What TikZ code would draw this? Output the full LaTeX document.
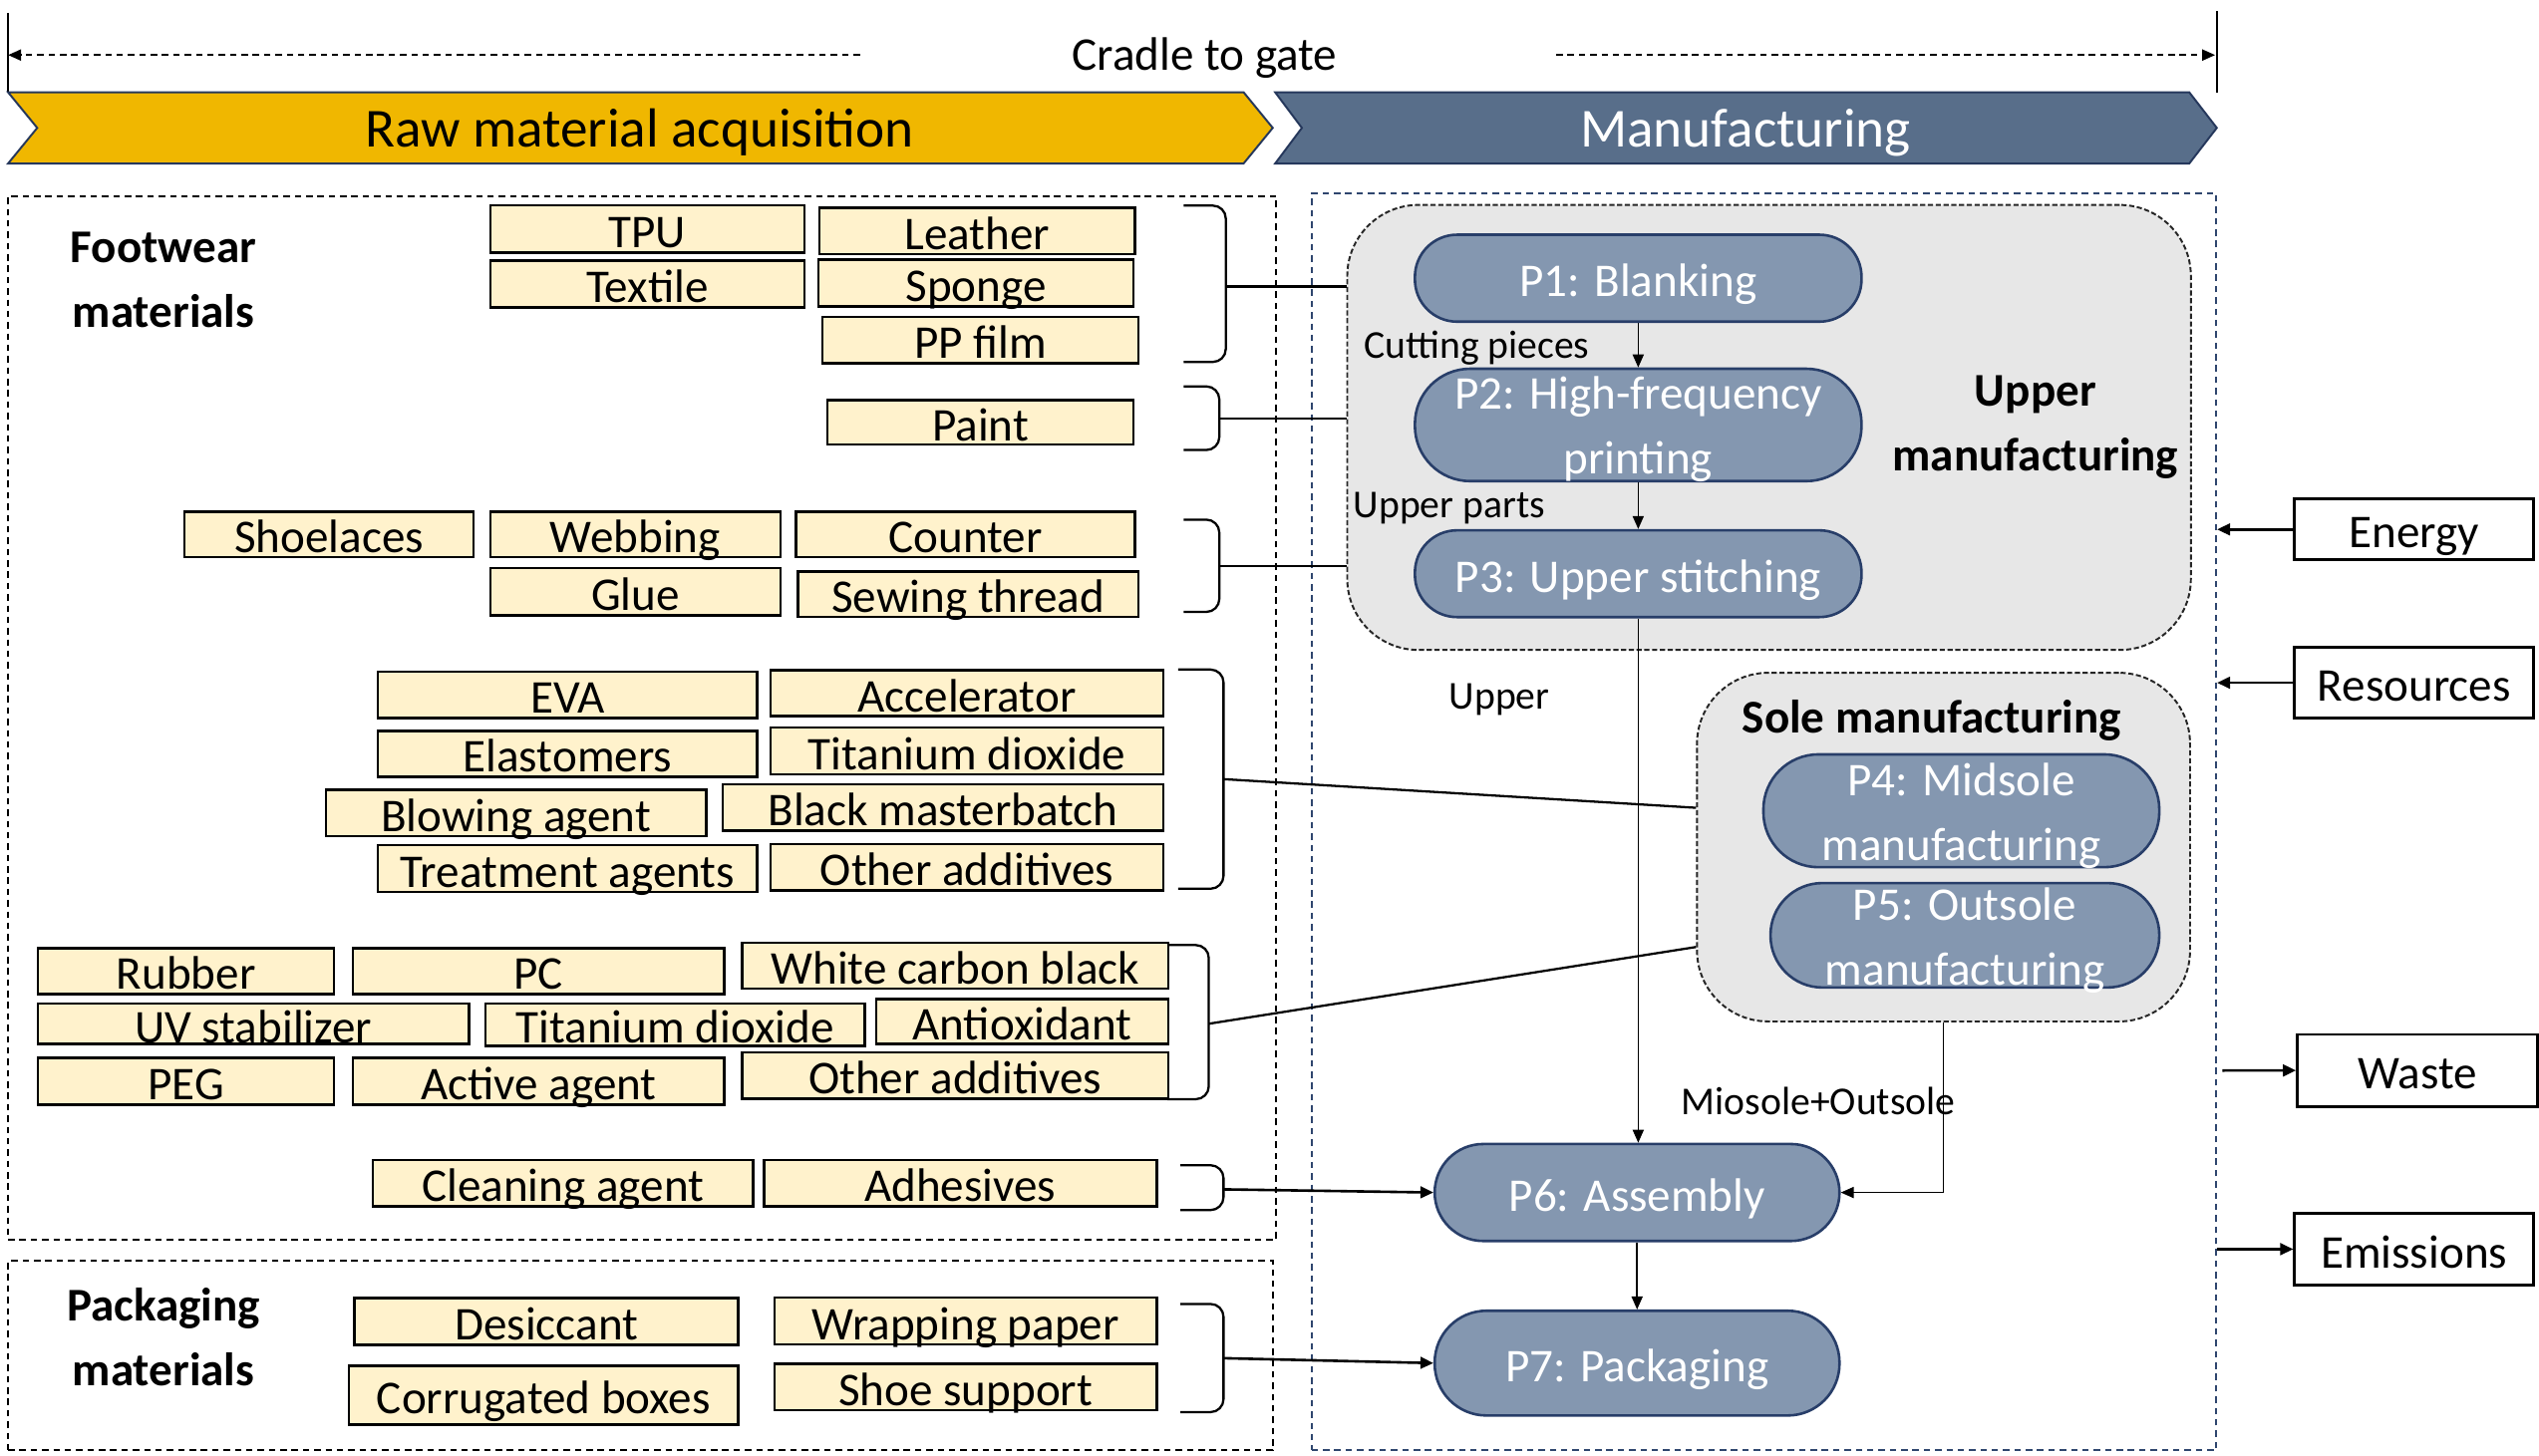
\documentclass[tikz,border=0pt]{standalone}
\usepackage{fontspec}
\setmainfont{Carlito}
\usetikzlibrary{arrows.meta}
\definecolor{gold}{RGB}{240,183,0}
\definecolor{chevblue}{RGB}{88,110,138}
\definecolor{navy}{RGB}{38,56,92}
\definecolor{pfill}{RGB}{132,151,176}
\definecolor{pborder}{RGB}{40,62,105}
\definecolor{matfill}{RGB}{255,242,204}
\definecolor{grayfill}{RGB}{231,231,231}
\definecolor{dashnavy}{RGB}{47,70,110}
\newcommand\ftitle{\fontsize{17pt}{20pt}\selectfont}
\newcommand\fmain{\fontsize{14.5pt}{20pt}\selectfont}
\newcommand\flab{\fontsize{12.2pt}{15pt}\selectfont}
\newcommand\bx[7]{\node[#1, minimum width={(#5-#3)*0.5pt}, minimum height={(#6-#4)*0.5pt}] (#2) at ({(#3+#5)/2},{(#4+#6)/2}) {#7};}
\tikzset{
  matbox/.style={draw=black, line width=0.8pt, fill=matfill, inner sep=0pt, text height=11.5pt, text depth=0pt, font=\fmain},
  pnode/.style={draw=pborder, line width=0.8pt, fill=pfill, text=white, font=\fmain, align=center, inner sep=0pt, text height=11.5pt, text depth=0pt},
  pnode2/.style={pnode, text height=30.5pt, text depth=0pt},
  sidebox/.style={draw=black, line width=0.8pt, fill=white, inner sep=0pt, text height=11.5pt, text depth=0pt, font=\fmain},
  grp/.style={draw=black!85, dash pattern=on 1.6pt off 0.8pt, line width=0.6pt, fill=grayfill, inner sep=0pt, rounded corners=22pt},
  outer/.style={draw=black, dash pattern=on 2pt off 1.5pt, line width=0.6pt, inner sep=0pt},
  conn/.style={line width=0.7pt},
  arr/.style={line width=0.5pt, -{Triangle[length=4pt,width=3.4pt]}},
  sarr/.style={line width=0.8pt, -{Triangle[length=4pt,width=3.6pt]}},
  brk/.style={line width=0.7pt, rounded corners=4pt},
  lab/.style={font=\flab, inner sep=0pt},
  blab/.style={font=\bfseries\fmain, align=center, inner sep=0pt},
}
\begin{document}
\begin{tikzpicture}[x=0.5pt,y=-0.5pt]
\useasboundingbox (0,0) rectangle (1568,899);
% top span
\draw[line width=0.6pt] (5,8) -- (5,57);
\draw[line width=0.6pt] (1369,7) -- (1369,57);
\coordinate (cla) at (531,34);
\coordinate (clb) at (5,34);
\coordinate (cra) at (961,34);
\coordinate (crb) at (1368,34);
\draw[dash pattern=on 2pt off 1.5pt, line width=0.6pt, -{Triangle[length=4pt,width=3.4pt]}] (cla) -- (clb);
\draw[dash pattern=on 2pt off 1.5pt, line width=0.6pt, -{Triangle[length=4pt,width=3.4pt]}] (cra) -- (crb);
\node[font=\fmain, inner sep=0pt] (cradle) at (744,36) {Cradle to gate};
% chevrons
\draw[navy, line width=0.6pt, fill=gold] (5,57) -- (768,57) -- (786,79) -- (768,101) -- (5,101) -- (23,79) -- cycle;
\draw[navy, line width=0.6pt, fill=chevblue] (787.5,57) -- (1352,57) -- (1369,79) -- (1352,101) -- (787.5,101) -- (804,79) -- cycle;
\node[font=\ftitle, inner sep=0pt] (rawtitle) at (395,82) {Raw material acquisition};
\node[font=\ftitle, text=white, inner sep=0pt] (mfgtitle) at (1078,82) {Manufacturing};
% outer boxes
\bx{outer}{fwbox}{5}{121}{788}{766}{}
\bx{outer}{pkbox}{5}{779}{786}{896}{}
\bx{outer, draw=dashnavy}{mfg}{810}{119.5}{1368.6}{896}{}
\bx{grp}{upperbox}{832}{126.6}{1353}{401.5}{}
\bx{grp}{solebox}{1048}{415.6}{1352.5}{631}{}
% labels
\node[blab] (fwlab) at (101,173) {Footwear\\materials};
\node[blab] (pklab) at (101,826) {Packaging\\materials};
\node[blab] (uplab) at (1257,264) {Upper\\manufacturing};
\node[blab] (solelab) at (1193,445) {Sole manufacturing};
% materials
\bx{matbox}{m1}{302.8}{126.8}{496.8}{156}{TPU}
\bx{matbox}{m2}{506}{128.3}{701}{157}{Leather}
\bx{matbox}{m3}{302.8}{161}{496.8}{189.8}{Textile}
\bx{matbox}{m4}{505.5}{160.5}{700}{189.2}{Sponge}
\bx{matbox}{m5}{508}{195.8}{703}{224.3}{PP film}
\bx{matbox}{m6}{511}{247.3}{700}{274.6}{Paint}
\bx{matbox}{m7}{113.9}{316}{292.5}{344.2}{Shoelaces}
\bx{matbox}{m8}{302.8}{316}{482}{344.2}{Webbing}
\bx{matbox}{m9}{491.7}{316}{701}{344.2}{Counter}
\bx{matbox}{m10}{302.8}{351}{482}{380}{Glue}
\bx{matbox}{m11}{492.7}{353}{703}{381}{Sewing thread}
\bx{matbox}{m12}{233.4}{415}{467.7}{443.5}{EVA}
\bx{matbox}{m13}{475.9}{414}{718.4}{442.5}{Accelerator}
\bx{matbox}{m14}{233.4}{451.4}{467.7}{479.7}{Elastomers}
\bx{matbox}{m15}{475.9}{449.3}{718.4}{478.4}{Titanium dioxide}
\bx{matbox}{m16}{201.2}{488}{436}{516.6}{Blowing agent}
\bx{matbox}{m17}{446.3}{484.6}{718.4}{513}{Black masterbatch}
\bx{matbox}{m18}{233.4}{522}{467.7}{551}{Treatment agents}
\bx{matbox}{m19}{475.9}{521.5}{718.4}{550}{Other additives}
\bx{matbox}{m20}{23.5}{585.6}{206.3}{614}{Rubber}
\bx{matbox}{m21}{218}{585.6}{447.3}{614}{PC}
\bx{matbox}{m22}{458.5}{582.3}{721.4}{610.6}{White carbon black}
\bx{matbox}{m23}{23.5}{620}{289.5}{645}{UV stabilizer}
\bx{matbox}{m24}{299.7}{620}{534}{646}{Titanium dioxide}
\bx{matbox}{m25}{541.2}{617}{721.4}{645}{Antioxidant}
\bx{matbox}{m26}{23.5}{653.3}{206.3}{682.5}{PEG}
\bx{matbox}{m27}{218}{653.3}{447.3}{682.5}{Active agent}
\bx{matbox}{m28}{458.5}{650}{721.4}{678.6}{Other additives}
\bx{matbox}{m29}{230.3}{716.5}{465.1}{745.3}{Cleaning agent}
\bx{matbox}{m30}{471.7}{716.5}{714.3}{745.3}{Adhesives}
\bx{matbox}{m31}{219}{802}{456}{830.8}{Desiccant}
\bx{matbox}{m32}{478.4}{801.5}{714.3}{830.4}{Wrapping paper}
\bx{matbox}{m33}{215.5}{843.7}{456}{880}{Corrugated boxes}
\bx{matbox}{m34}{478.4}{842.4}{714.3}{871}{Shoe support}
% brackets
\draw[brk] (731,127) -- (757,127) -- (757,223.6) -- (731,223.6);
\draw[brk] (731,238.7) -- (753,238.7) -- (753,278) -- (731,278);
\draw[brk] (731,321) -- (753,321) -- (753,378) -- (731,378);
\draw[brk] (727.6,413.6) -- (755.6,413.6) -- (755.6,549) -- (727.6,549);
\draw[brk] (721,583.8) -- (746.5,583.8) -- (746.5,679) -- (721,679);
\draw[brk] (729,719.8) -- (755.6,719.8) -- (755.6,747.5) -- (729,747.5);
\draw[brk] (729,805.5) -- (755.6,805.5) -- (755.6,872.3) -- (729,872.3);
\coordinate (b1) at (757,177);
\coordinate (b2) at (753,258.5);
\coordinate (b3) at (753,349.5);
\coordinate (b4) at (755.6,481.3);
\coordinate (b5) at (746.5,632.4);
\coordinate (b6) at (755.6,734.7);
\coordinate (b7) at (755.6,839);
\draw[conn] (b1) -- (b1 -| upperbox.west);
\draw[conn] (b2) -- (b2 -| upperbox.west);
\draw[conn] (b3) -- (b3 -| upperbox.west);
\draw[conn] (b4) -- (solebox.west |- 0,499);
\draw[conn] (b5) -- (solebox.west |- 0,585);
% process nodes
\bx{pnode, rounded corners=13pt}{P1}{873.8}{145}{1149.6}{198.7}{P1: Blanking}
\bx{pnode2, rounded corners=17pt}{P2}{873.8}{227.8}{1149.6}{297.2}{P2: High-frequency\\printing}
\bx{pnode, rounded corners=13pt}{P3}{873.8}{327.6}{1149.6}{381.2}{P3: Upper stitching}
\bx{pnode2, rounded corners=17pt}{P4}{1089}{466}{1333.5}{535.7}{P4: Midsole\\manufacturing}
\bx{pnode2, rounded corners=16pt}{P5}{1093.4}{545.5}{1333.5}{610}{P5: Outsole\\manufacturing}
\bx{pnode, rounded corners=15pt}{P6}{886}{706.7}{1136}{766.6}{P6: Assembly}
\bx{pnode, rounded corners=16pt}{P7}{886}{809.7}{1136}{874.4}{P7: Packaging}
\draw[arr] (P1.south) -- (P2.north);
\draw[arr] (P2.south) -- (P3.north);
\draw[arr] (P3.south) -- (P3.south |- P6.north);
\draw[arr] (solebox.south) |- (P6.east);
\draw[arr] (P6.south) -- (P7.north);
\draw[sarr] (b6) -- (P6.west);
\draw[sarr] (b7) -- (P7.west);
\node[lab] (lcut) at (912,215) {Cutting pieces};
\node[lab] (lparts) at (895,314) {Upper parts};
\node[lab] (lupper) at (926,432) {Upper};
\node[lab] (lsole) at (1123,680) {Miosole+Outsole};
% side boxes
\bx{sidebox}{energy}{1417}{308.3}{1564.7}{345.8}{Energy}
\bx{sidebox}{resources}{1417}{399.8}{1564.7}{443.7}{Resources}
\bx{sidebox}{waste}{1418.7}{639}{1567}{683.5}{Waste}
\bx{sidebox}{emissions}{1417}{749.6}{1564.7}{793.7}{Emissions}
\draw[sarr] (energy.west) -- (energy.west -| mfg.east);
\draw[sarr] (resources.west) -- (resources.west -| mfg.east);
\coordinate (wst) at (1372.5,661.3);
\draw[sarr] (wst) -- (waste.west);
\draw[sarr] (emissions.west -| mfg.east) -- (emissions.west);
\end{tikzpicture}
\end{document}
